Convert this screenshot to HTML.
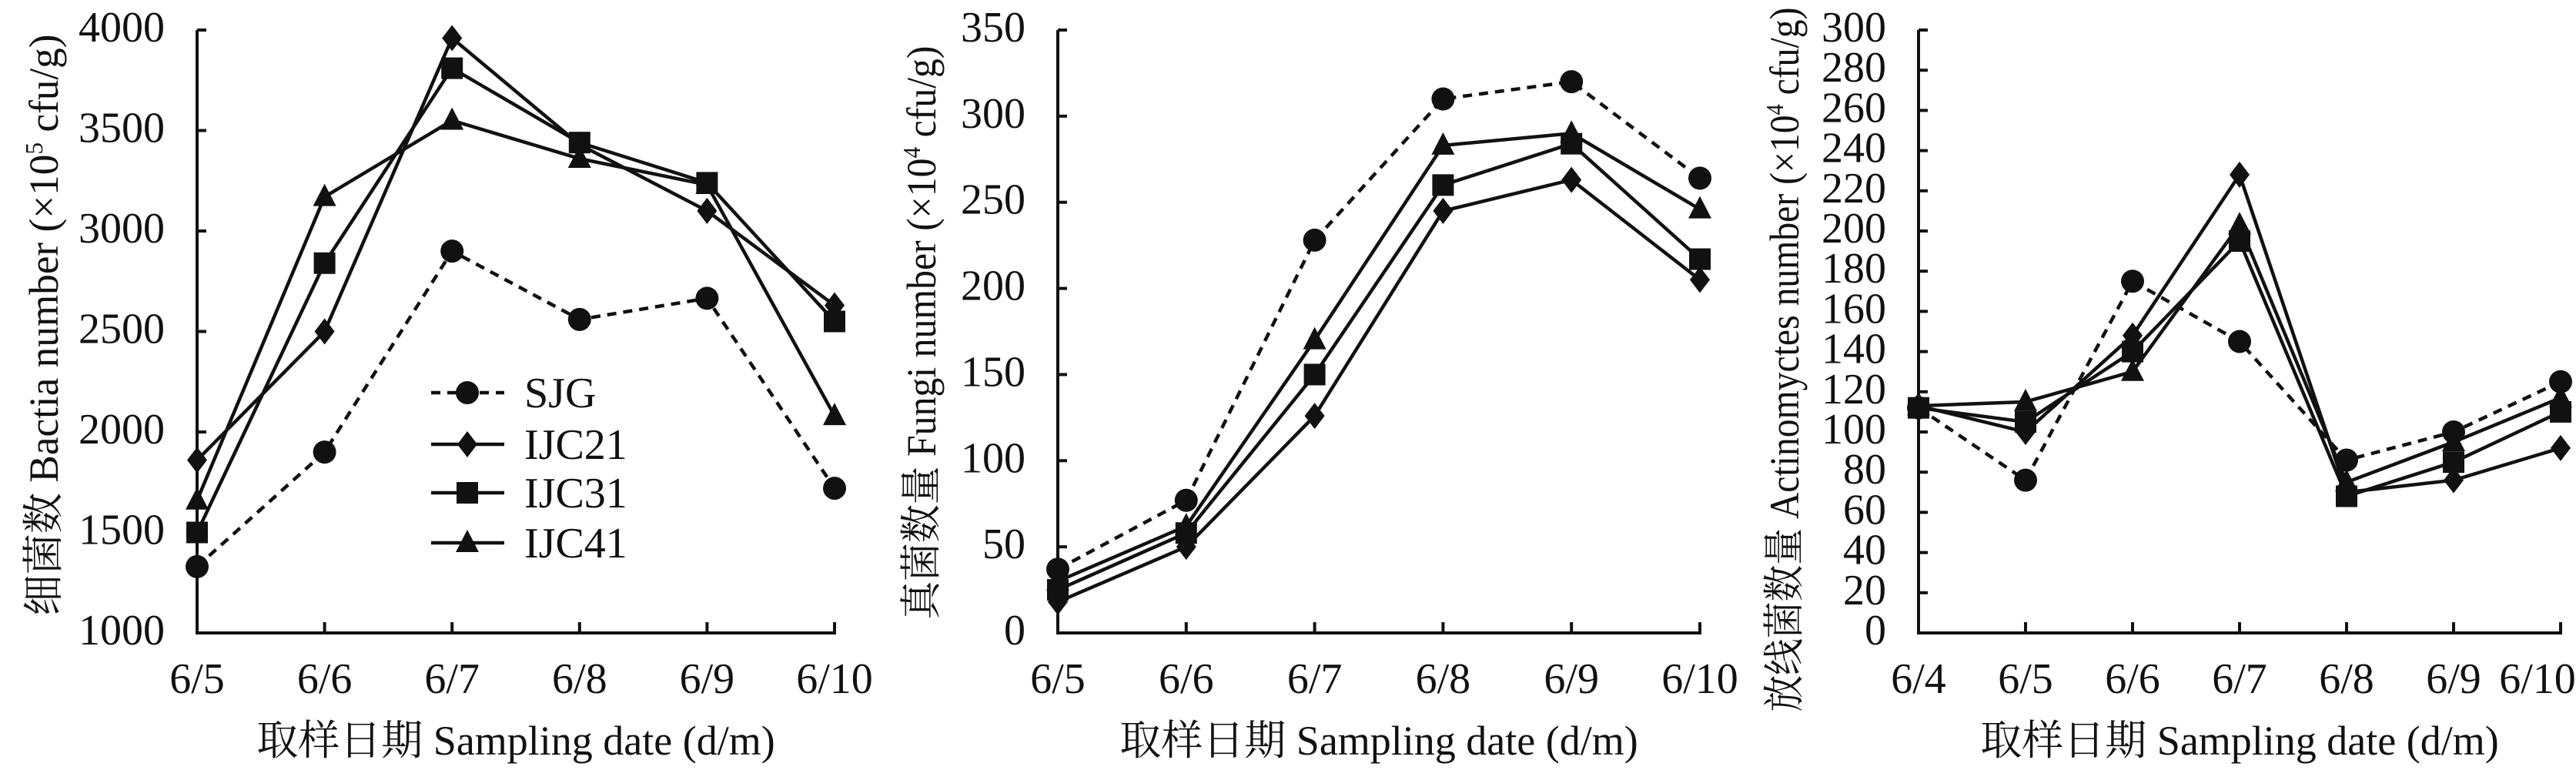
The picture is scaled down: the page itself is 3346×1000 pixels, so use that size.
<!DOCTYPE html>
<html><head><meta charset="utf-8"><style>
html,body{margin:0;padding:0;background:#fff;}
svg{display:block;font-family:"Liberation Serif","Noto Serif CJK SC",serif;}
</style></head><body>
<svg id="chart" width="3346" height="1000" viewBox="0 0 3346 1000" xmlns="http://www.w3.org/2000/svg"></svg>
<script>
// Panel 1: bacteria
const cats1 = ["6/5","6/6","6/7","6/8","6/9","6/10"];
const bac_SJG = [1330,1900,2900,2560,2665,1720];
const bac_IJC21 = [1860,2500,3960,3430,3100,2630];
const bac_IJC31 = [1500,2840,3810,3440,3240,2550];
const bac_IJC41 = [1660,3170,3550,3360,3230,2080];
const bacTicks = [1000,1500,2000,2500,3000,3500,4000];
// Panel 2: fungi
const cats2 = ["6/5","6/6","6/7","6/8","6/9","6/10"];
const fun_SJG = [37,77,228,310,320,264];
const fun_IJC21 = [18,50,126,245,263,205];
const fun_IJC31 = [25,58,150,260,284,217];
const fun_IJC41 = [30,62,170,283,290,246];
const funTicks = [0,50,100,150,200,250,300,350];
// Panel 3: actinomycetes
const cats3 = ["6/4","6/5","6/6","6/7","6/8","6/9","6/10"];
const act_SJG = [112,76,175,145,86,100,125];
const act_IJC21 = [113,100,148,228,70,76,92];
const act_IJC31 = [112,105,140,195,68,85,110];
const act_IJC41 = [113,115,130,203,75,95,117];
const actTicks = [0,20,40,60,80,100,120,140,160,180,200,220,240,260,280,300];
const seriesNames = ["SJG","IJC21","IJC31","IJC41"];

const NS="http://www.w3.org/2000/svg";
const svg=document.getElementById('chart');
function mk(tag,attrs,parent){const e=document.createElementNS(NS,tag);for(const k in attrs)e.setAttribute(k,attrs[k]);(parent||svg).appendChild(e);return e;}
function marker(g,type,x,y){
  let m;
  if(type===0){m=mk('circle',{cx:x,cy:y,r:15,fill:'#111'},g);}
  else if(type===1){m=mk('polygon',{points:`${x},${y-17} ${x+13},${y} ${x},${y+17} ${x-13},${y}`,fill:'#111'},g);}
  else if(type===2){m=mk('rect',{x:x-14,y:y-14,width:28,height:28,fill:'#111'},g);}
  else {m=mk('polygon',{points:`${x},${y-17} ${x+15},${y+12} ${x-15},${y+12}`,fill:'#111'},g);}
  
  
}
function panel(id,x0,x1,cats,ticks,series,ytitle,ytitleX,ytitleY,ytitleLen,lastLabelX){
  const y0=822,yTop=39;
  const g=mk('g',{});
  
  
  const mn=ticks[0],mx=ticks[ticks.length-1];
  const X=i=>x0+(x1-x0)*i/(cats.length-1);
  const Y=v=>y0-(v-mn)/(mx-mn)*(y0-yTop);
  const ax=mk('path',{d:`M${x0},${yTop} V${y0} H${x1+2}`,stroke:'#111','stroke-width':4,fill:'none'},g);
  
  
  ticks.forEach(t=>{
    mk('line',{x1:x0,x2:x0+12,y1:Y(t),y2:Y(t),stroke:'#111','stroke-width':4},g);
    const tx=mk('text',{x:x0-42,y:Y(t)+15,'font-size':56,'text-anchor':'end',fill:'#111'},g);
    tx.textContent=t;
    
    
  });
  cats.forEach((c,i)=>{
    if(i>0) mk('line',{x1:X(i),x2:X(i),y1:y0,y2:y0-14,stroke:'#111','stroke-width':4},g);
    const lx=(i===cats.length-1 && lastLabelX)?lastLabelX:X(i);
    const tx=mk('text',{x:lx,y:900,'font-size':56,'text-anchor':'middle',fill:'#111'},g);
    tx.textContent=c;
    
    
  });
  const xt=mk('text',{x:(x0+x1)/2,y:980,'font-size':54,'text-anchor':'middle',fill:'#111'},g);
  xt.textContent='取样日期 Sampling date (d/m)';
  
  
  const yt=mk('text',{x:-ytitleLen/2,y:0,'font-size':54,textLength:ytitleLen,lengthAdjust:'spacingAndGlyphs',fill:'#111',transform:`translate(${ytitleX+18},${ytitleY}) rotate(-90)`},g);
  yt.innerHTML=ytitle;
  
  
  series.forEach((s,k)=>{
    const d=s.map((v,i)=>(i?'L':'M')+X(i)+','+Y(v)).join(' ');
    const p=mk('path',{d:d,stroke:'#111','stroke-width':4.5,fill:'none'},g);
    if(k===0)p.setAttribute('stroke-dasharray','12 9');
    
    
    s.forEach((v,i)=>marker(g,k,X(i),Y(v)));
  });
}
panel('bacteria-panel',256,1084,cats1,bacTicks,[bac_SJG,bac_IJC21,bac_IJC31,bac_IJC41],'细菌数 Bactia number (×10<tspan dy="-20" font-size="32">5</tspan><tspan dy="20"> cfu/g)</tspan>',57,422,755,0);
panel('fungi-panel',1374,2208,cats2,funTicks,[fun_SJG,fun_IJC21,fun_IJC31,fun_IJC41],'真菌数量 Fungi number (×10<tspan dy="-20" font-size="32">4</tspan><tspan dy="20"> cfu/g)</tspan>',1197,432,745,0);
panel('actinomycetes-panel',2492,3326,cats3,actTicks,[act_SJG,act_IJC21,act_IJC31,act_IJC41],'放线菌数量 Actinomyctes number (×10<tspan dy="-20" font-size="32">4</tspan><tspan dy="20"> cfu/g)</tspan>',2318,467,915,3296);

// legend in panel 1
const lg=mk('g',{});


const legY=[510,577,640,705];
seriesNames.forEach((n,k)=>{
  const l=mk('line',{x1:560,x2:655,y1:legY[k],y2:legY[k],stroke:'#111','stroke-width':4.5},lg);
  if(k===0)l.setAttribute('stroke-dasharray','12 9');
  marker(lg,k,607,legY[k]);
  const t=mk('text',{x:681,y:legY[k]+19,'font-size':56,fill:'#111'},lg);
  t.textContent=n;
  
  
});
</script>
</body></html>
